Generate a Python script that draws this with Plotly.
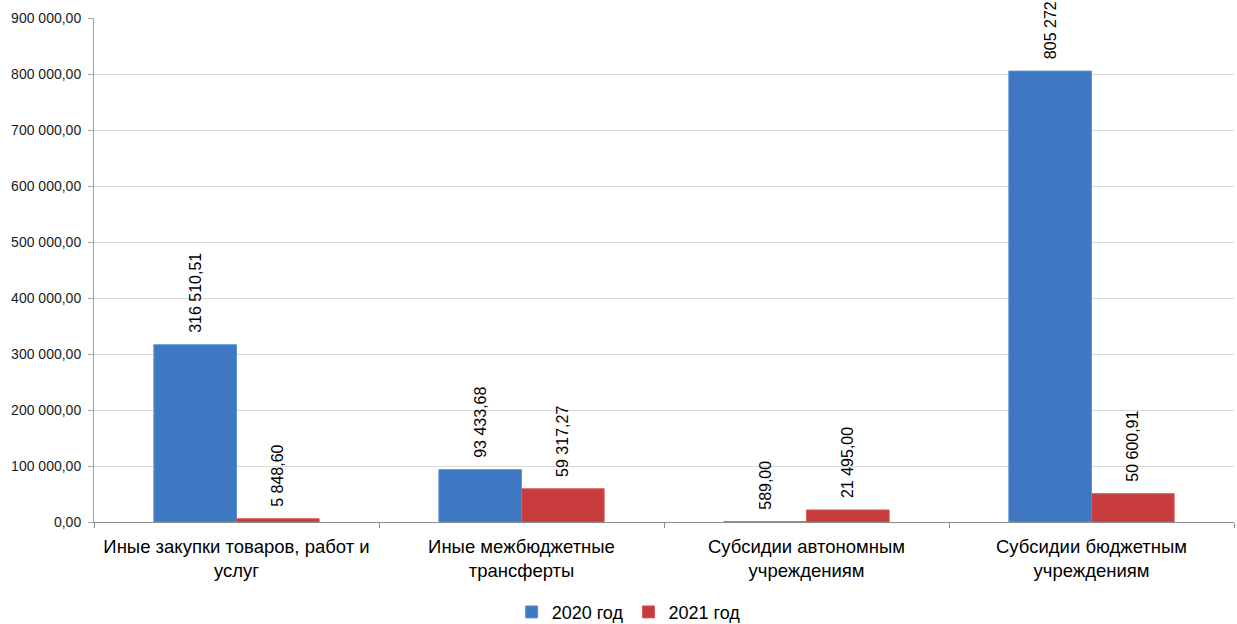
import plotly.graph_objects as go

categories = [
    "Иные закупки товаров, работ и<br>услуг",
    "Иные межбюджетные<br>трансферты",
    "Субсидии автономным<br>учреждениям",
    "Субсидии бюджетным<br>учреждениям",
]
values_2020 = [316510.51, 93433.68, 589.00, 805272.00]
values_2021 = [5848.60, 59317.27, 21495.00, 50600.91]
series_names = ["2020 год", "2021 год"]
tick_values = [0, 100000, 200000, 300000, 400000, 500000, 600000, 700000, 800000, 900000]

FONT = "Liberation Sans, Arial, sans-serif"

fig = go.Figure()
for name, vals, color, line in [
    (series_names[0], values_2020, "#3f78c2", "#5b93d6"),
    (series_names[1], values_2021, "#c63c3c", "#d85a5a"),
]:
    fig.add_trace(go.Bar(
        x=categories, y=vals, name=name,
        marker=dict(color=color, line=dict(color=line, width=1)),
        texttemplate="\u00a0\u00a0%{y:,.2f}", textposition="outside", textangle=-90,
        constraintext="none", cliponaxis=False,
        textfont=dict(family=FONT, size=16, color="#000000"),
    ))

fig.update_layout(
    width=1237, height=624,
    margin=dict(l=94, r=3, t=18, b=102, autoexpand=False),
    paper_bgcolor="white", plot_bgcolor="white",
    separators=", ",
    barmode="group", bargap=0.42, bargroupgap=0,
    font=dict(family=FONT, size=12, color="#000000"),
    showlegend=True,
    legend=dict(orientation="h", x=0.469, xanchor="center", y=-0.179, yanchor="middle",
                font=dict(family=FONT, size=18, color="#000000"),
                itemwidth=30, tracegroupgap=0),
)
fig.update_xaxes(
    showline=True, linecolor="#8c8c8c", linewidth=1,
    ticks="outside", ticklen=5, tickcolor="#8c8c8c",
    tickson="boundaries", showgrid=False, automargin=False,
    ticklabelstandoff=8,
    tickfont=dict(family=FONT, size=18.5, color="#000000"),
)
fig.update_yaxes(
    range=[0, 900000], tickvals=tick_values, tickformat=",.2f",
    showline=True, linecolor="#a6a6a6", linewidth=1,
    ticks="outside", ticklen=5, tickcolor="#a6a6a6",
    showgrid=True, gridcolor="#d9d9d9", gridwidth=1,
    zeroline=False, automargin=False, ticklabelstandoff=4,
    tickfont=dict(family=FONT, size=14, color="#1a1a1a"),
)

fig.write_html(
    "out.html",
    config={"displayModeBar": False},
    post_script="document.body.style.margin='0';document.body.style.padding='0';",
)
